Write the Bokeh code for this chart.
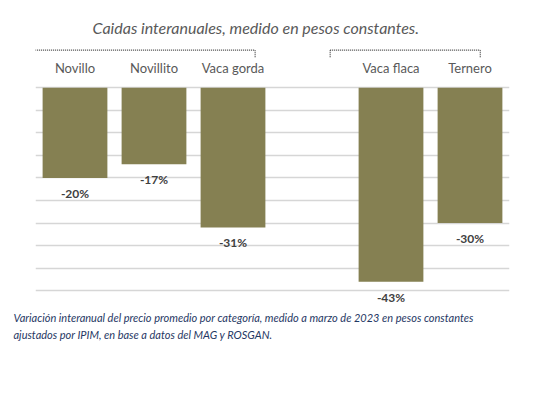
from bokeh.plotting import figure
from bokeh.models import ColumnDataSource, FactorRange, Range1d, FixedTicker, Title
from bokeh.core.properties import value
from bokeh.embed import file_html
from bokeh.resources import INLINE

# data
categories = ["Novillo", "Novillito", "Vaca gorda", " ", "Vaca flaca", "Ternero"]
bar_categories = ["Novillo", "Novillito", "Vaca gorda", "Vaca flaca", "Ternero"]
changes = [-20, -17, -31, -43, -30]
change_labels = ["-20%", "-17%", "-31%", "-43%", "-30%"]
grid_ticks = [0, -5, -10, -15, -20, -25, -30, -35, -40, -45]
title_text = "Caidas interanuales, medido en pesos constantes."
caption_1 = "Variación interanual del precio promedio por categoría, medido a marzo de 2023 en pesos constantes"
caption_2 = "ajustados por IPIM, en base a datos del MAG y ROSGAN."
groups = [["Novillo", "Novillito", "Vaca gorda"], ["Vaca flaca", "Ternero"]]

BAR = "#858052"
GREY = "#595959"
DARK = "#404040"
NAVY = "#1f3864"

p = figure(width=543, height=392, x_range=FactorRange(*categories, range_padding=0),
           y_range=Range1d(-48.5, 10), output_backend="svg", toolbar_location=None,
           min_border_left=35, min_border_right=34, min_border_top=42, min_border_bottom=86)
p.outline_line_color = None
p.xaxis.visible = False
p.yaxis.visible = False
p.xgrid.grid_line_color = None
p.ygrid.ticker = FixedTicker(ticks=grid_ticks)
p.ygrid.grid_line_color = "#d6d6d6"
p.ygrid.grid_line_width = 1.5

src = ColumnDataSource(dict(cat=bar_categories, val=changes, lab=change_labels,
                            ly=[v - 3.4 for v in changes]))
p.vbar(x="cat", top=0, bottom="val", width=0.82, source=src, fill_color=BAR, line_color=None)
p.text(x="cat", y="ly", text="lab", source=src, text_align="center", text_baseline="middle",
       text_font=value("Lato"), text_font_style="bold", text_font_size="12px", text_color=DARK)

# category labels on top
p.text(x=bar_categories, y=[4.4] * len(bar_categories), text=bar_categories,
       text_align="center", text_baseline="middle", text_font=value("Lato"),
       text_font_size="13px", text_color=GREY)

# dotted group brackets
bx0, bx1 = [], []
for g, (lo, hi) in zip(groups, [(-0.53, 0.28), (-0.77, 0.13)]):
    bx0.append(categories.index(g[0]) + 0.5 + lo)
    bx1.append(categories.index(g[-1]) + 0.5 + hi)
by, bt = 8.3, 6.7
p.segment(x0=bx0, y0=[by] * 2, x1=bx1, y1=[by] * 2, line_color=DARK, line_dash="1 1", line_width=1.2)
p.segment(x0=bx0 + bx1, y0=[by] * 4, x1=bx0 + bx1, y1=[bt] * 4, line_color=DARK,
          line_dash="1 1", line_width=1.2)

p.title.text = title_text
p.title.text_font = "Lato"
p.title.text_font_style = "italic"
p.title.text_font_size = "16px"
p.title.text_color = GREY
p.title.align = "left"
p.title.offset = 57
p.title.standoff = 12

for i, t in enumerate([caption_1, caption_2]):
    p.add_layout(Title(text=t, text_font="Lato", text_font_style="italic", text_font_size="11px",
                       text_color=NAVY, align="left", offset=-22, standoff=4 if i == 0 else 0),
                 "below")

open("out.html", "w").write(file_html(p, INLINE))
